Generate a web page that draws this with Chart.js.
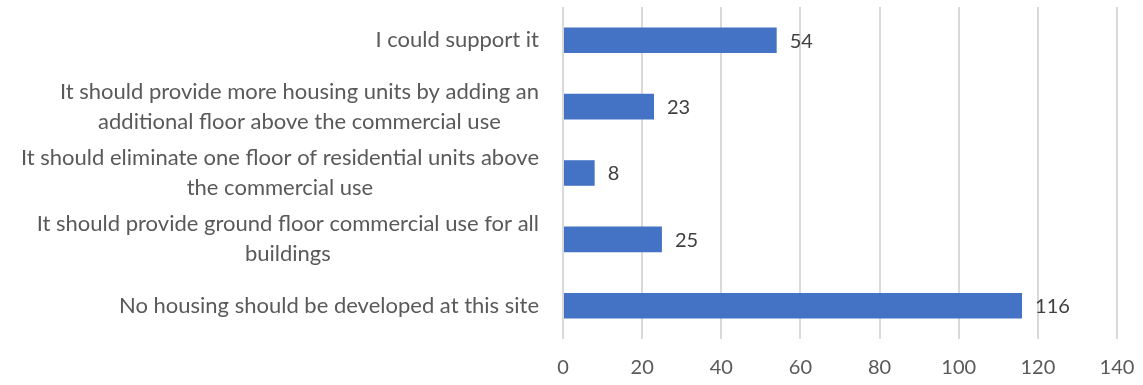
<!DOCTYPE html>
<html><head><meta charset="utf-8">
<script src="https://cdn.jsdelivr.net/npm/chart.js@4.4.1/dist/chart.umd.min.js"></script>
<style>html,body{margin:0;padding:0;background:#fff}#wrap{width:1143px;height:385px}</style>
</head><body><div id="wrap"><canvas id="c"></canvas></div>
<script>
const categories = [
  ["I could support it"],
  ["It should provide more housing units by adding an", "additional floor above the commercial use"],
  ["It should eliminate one floor of residential units above", "the commercial use"],
  ["It should provide ground floor commercial use for all", "buildings"],
  ["No housing should be developed at this site"]
];
const values = [54, 23, 8, 25, 116];
const xTicks = [0, 20, 40, 60, 80, 100, 120, 140];

const FONT = "Lato, 'Open Sans', sans-serif";
const LABEL_FS = 22;
const TICK_FS = 20;

const labelPlugin = {
  id: 'labels',
  afterDraw(chart) {
    const ctx = chart.ctx;
    const y = chart.scales.y;
    const right = 539;
    const lh = 30;
    ctx.save();
    ctx.font = LABEL_FS + 'px ' + FONT;
    ctx.fillStyle = '#595959';
    ctx.textBaseline = 'middle';
    categories.forEach((lines, i) => {
      const cy = y.getPixelForValue(i);
      const w = Math.max(...lines.map(l => ctx.measureText(l).width));
      const cx = right - w / 2;
      ctx.textAlign = 'center';
      lines.forEach((l, j) => {
        ctx.fillText(l, cx, cy + (j - (lines.length - 1) / 2) * lh);
      });
    });
    const meta = chart.getDatasetMeta(0);
    ctx.font = TICK_FS + 'px ' + FONT;
    ctx.fillStyle = '#404040';
    ctx.textAlign = 'left';
    meta.data.forEach((bar, i) => {
      ctx.fillText(String(values[i]), bar.x + 13, bar.y + 1);
    });
    ctx.restore();
  }
};

new Chart(document.getElementById('c'), {
  type: 'bar',
  data: {
    labels: categories.map(c => c.join(' ')),
    datasets: [{
      data: values,
      backgroundColor: '#4472C4',
      borderWidth: 0,
      categoryPercentage: 1,
      barPercentage: 0.385
    }]
  },
  options: {
    indexAxis: 'y',
    responsive: true,
    maintainAspectRatio: false,
    animation: false,
    layout: { padding: { top: 7, right: 0, bottom: 0, left: 0 } },
    plugins: { legend: { display: false }, tooltip: { enabled: false } },
    scales: {
      x: {
        min: 0, max: 140,
        afterBuildTicks(scale) { scale.ticks = xTicks.map(v => ({ value: v })); },
        afterFit(scale) { scale.height = 46; scale.paddingRight = 26; scale.paddingLeft = 0; },
        grid: { color: '#d9d9d9', lineWidth: 2, drawTicks: false },
        border: { display: false },
        ticks: { color: '#595959', font: { family: FONT, size: TICK_FS }, padding: 17, maxRotation: 0 }
      },
      y: {
        grid: { display: false, drawTicks: false },
        border: { display: false },
        ticks: { display: false },
        afterFit(scale) { scale.width = 563; }
      }
    }
  },
  plugins: [labelPlugin]
});
</script>
</body></html>
